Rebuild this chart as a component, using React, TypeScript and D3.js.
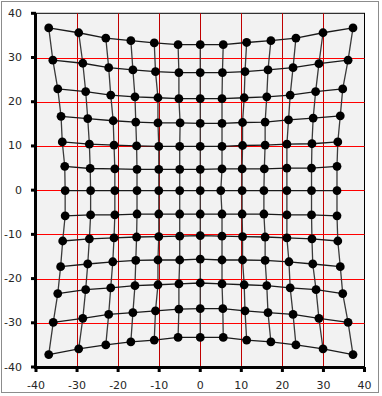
import React from "react";
import * as d3 from "d3";

// Grid rows: x and y coordinates of each point (13 rows x 13 points)
const rowX: number[][] = [
  [-36.9, -29.6, -23.0, -16.9, -11.2, -5.4, 0, 5.6, 11.3, 17.2, 23.3, 29.9, 37.2],
  [-35.9, -28.6, -22.3, -16.4, -10.9, -5.2, 0, 5.4, 10.9, 16.5, 22.6, 28.9, 36.0],
  [-34.7, -27.9, -21.8, -15.9, -10.3, -5.2, 0, 5.3, 10.7, 16.2, 21.9, 28.1, 34.7],
  [-33.9, -27.4, -21.2, -15.7, -10.3, -4.9, 0, 5.3, 10.3, 15.8, 21.5, 27.5, 34.1],
  [-33.6, -27.0, -21.0, -15.5, -10.1, -5.0, 0, 5.3, 10.3, 15.8, 21.1, 27.2, 33.5],
  [-33.0, -26.8, -20.8, -15.4, -10.1, -5.0, 0, 5.3, 10.2, 15.6, 21.1, 27.1, 33.3],
  [-32.9, -26.7, -20.8, -15.4, -10.1, -5.0, 0, 5.0, 10.2, 15.5, 21.1, 27.1, 33.3],
  [-32.9, -26.7, -20.8, -15.4, -10.1, -5.0, 0, 5.3, 10.2, 15.5, 21.1, 27.1, 33.3],
  [-33.5, -27.0, -21.0, -15.5, -10.1, -5.0, 0, 5.3, 10.3, 15.8, 21.1, 27.2, 33.5],
  [-34.0, -27.4, -21.3, -15.7, -10.3, -5.0, 0, 5.3, 10.3, 15.8, 21.6, 27.4, 34.1],
  [-34.7, -27.9, -21.8, -15.9, -10.3, -5.2, 0, 5.3, 10.7, 16.2, 21.9, 28.2, 34.7],
  [-35.8, -28.6, -22.3, -16.4, -10.9, -5.2, 0, 5.5, 10.9, 16.5, 22.6, 28.9, 36.0],
  [-36.9, -29.6, -23.0, -16.9, -11.2, -5.4, 0, 5.6, 11.3, 17.2, 23.3, 29.9, 37.2],
];

const rowY: number[][] = [
  [36.7, 35.6, 34.4, 33.8, 33.3, 32.9, 32.9, 32.9, 33.4, 33.8, 34.4, 35.6, 36.7],
  [29.4, 28.7, 27.7, 27.2, 26.8, 26.6, 26.6, 26.6, 26.8, 27.2, 27.7, 28.6, 29.4],
  [22.9, 22.3, 21.5, 21.1, 20.9, 20.7, 20.7, 20.7, 20.9, 21.1, 21.5, 22.3, 22.9],
  [16.7, 16.2, 15.7, 15.4, 15.2, 15.2, 15.1, 15.1, 15.3, 15.4, 15.9, 16.3, 16.8],
  [10.9, 10.4, 10.2, 10.0, 9.9, 9.9, 9.9, 9.9, 10.1, 10.2, 10.4, 10.5, 10.9],
  [5.4, 4.9, 4.8, 4.7, 4.7, 4.7, 4.7, 4.8, 4.8, 4.8, 5.0, 5.0, 5.4],
  [-0.1, -0.1, -0.1, -0.1, -0.1, -0.1, -0.1, -0.1, -0.1, -0.1, -0.1, -0.1, -0.1],
  [-5.8, -5.6, -5.6, -5.4, -5.4, -5.4, -5.4, -5.4, -5.4, -5.4, -5.6, -5.6, -5.8],
  [-11.5, -11.0, -10.8, -10.6, -10.5, -10.4, -10.3, -10.4, -10.5, -10.6, -10.8, -11.0, -11.5],
  [-17.3, -16.7, -16.2, -15.9, -15.8, -15.8, -15.6, -15.8, -15.8, -15.9, -16.2, -16.7, -17.3],
  [-23.4, -22.5, -22.1, -21.6, -21.4, -21.2, -21.0, -21.2, -21.4, -21.6, -22.1, -22.5, -23.4],
  [-29.9, -29.0, -28.1, -27.7, -27.3, -26.9, -26.8, -26.8, -27.3, -27.7, -28.1, -29.0, -29.9],
  [-37.2, -35.9, -35.0, -34.3, -33.9, -33.3, -33.3, -33.3, -33.9, -34.3, -35.0, -35.9, -37.2],
];

const xTicks = [-40, -30, -20, -10, 0, 10, 20, 30, 40];
const yTicks = [-40, -30, -20, -10, 0, 10, 20, 30, 40];

const W = 382;
const H = 396;
const plot = { left: 36, right: 364.5, top: 13.3, bottom: 367 };

export default function App() {
  const x = d3.scaleLinear().domain([-40, 40]).range([plot.left, plot.right]);
  const y = d3.scaleLinear().domain([-40, 40]).range([plot.bottom, plot.top]);
  const line = d3
    .line<[number, number]>()
    .x((d) => x(d[0]))
    .y((d) => y(d[1]));

  const rows: [number, number][][] = rowX.map((r, i) => r.map((v, j) => [v, rowY[i][j]]));
  const cols: [number, number][][] = rowX[0].map((_, j) => rowX.map((r, i) => [r[j], rowY[i][j]]));

  const inner = xTicks.filter((t) => t > -40 && t < 40);
  const innerY = yTicks.filter((t) => t > -40 && t < 40);
  const font = "'DejaVu Sans', Verdana, sans-serif";

  return (
    <svg
      width={W}
      height={H}
      style={{ position: "absolute", left: 0, top: 0, background: "#fff" }}
    >
      <rect x={1.5} y={1.5} width={377} height={391} fill="#fff" stroke="#8c8c8c" strokeWidth={1} />
      <rect
        x={plot.left}
        y={plot.top}
        width={plot.right - plot.left}
        height={plot.bottom - plot.top}
        fill="#f2f2f2"
        stroke="#000"
        strokeWidth={1}
      />
      {inner.map((t) => (
        <line
          key={"vx" + t}
          x1={Math.round(x(t)) + 0.5}
          x2={Math.round(x(t)) + 0.5}
          y1={plot.top}
          y2={plot.bottom}
          stroke="#c00000"
          strokeWidth={1}
        />
      ))}
      {innerY.map((t) => (
        <line
          key={"hy" + t}
          x1={plot.left}
          x2={plot.right}
          y1={Math.round(y(t)) + 0.5}
          y2={Math.round(y(t)) + 0.5}
          stroke="#ff0000"
          strokeWidth={1}
        />
      ))}
      {rows.map((r, i) => (
        <path key={"r" + i} d={line(r) || ""} fill="none" stroke="#1a1a1a" strokeWidth={1.3} />
      ))}
      {cols.map((c, i) => (
        <path key={"c" + i} d={line(c) || ""} fill="none" stroke="#3a3a3a" strokeWidth={1.3} />
      ))}
      {rows.map((r, i) =>
        r.map((p, j) => <circle key={`p${i}-${j}`} cx={x(p[0])} cy={y(p[1])} r={4.4} fill="#000" />)
      )}
      {/* axes */}
      <line x1={plot.left - 0.5} x2={plot.left - 0.5} y1={plot.top} y2={plot.bottom + 1.5} stroke="#000" strokeWidth={3} />
      <line x1={plot.left - 2} x2={plot.right + 0.5} y1={plot.bottom + 0.5} y2={plot.bottom + 0.5} stroke="#000" strokeWidth={3} />
      {yTicks.map((t) => (
        <line key={"yt" + t} x1={plot.left - 5} x2={plot.left} y1={y(t)} y2={y(t)} stroke="#000" strokeWidth={3} />
      ))}
      {xTicks.map((t) => (
        <line key={"xt" + t} x1={x(t)} x2={x(t)} y1={plot.bottom} y2={plot.bottom + 5} stroke="#000" strokeWidth={3} />
      ))}
      {yTicks.map((t) => (
        <text
          key={"yl" + t}
          x={plot.left - 14}
          y={y(t)}
          textAnchor="end"
          dominantBaseline="central"
          fontFamily={font}
          fontSize={11}
          fill="#262626"
        >
          {t}
        </text>
      ))}
      {xTicks.map((t) => (
        <text
          key={"xl" + t}
          x={x(t)}
          y={plot.bottom + 18}
          textAnchor="middle"
          dominantBaseline="central"
          fontFamily={font}
          fontSize={11}
          fill="#262626"
        >
          {t}
        </text>
      ))}
    </svg>
  );
}
